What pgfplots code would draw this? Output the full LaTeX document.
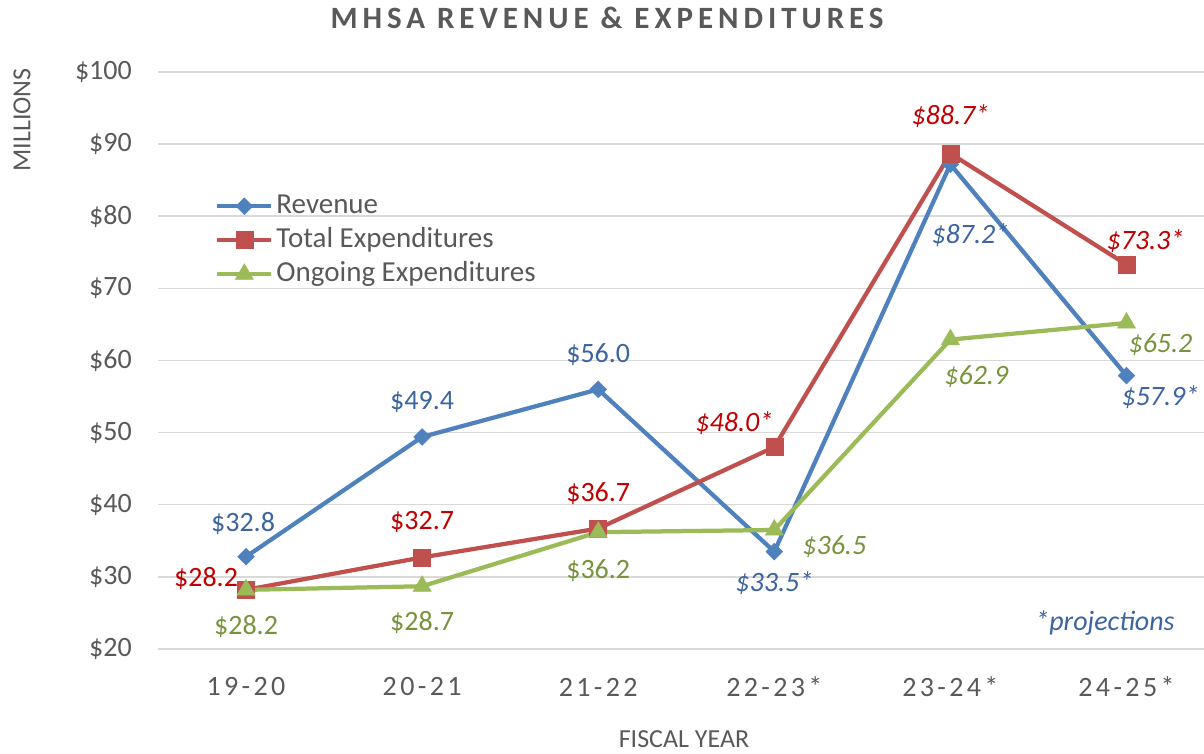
\documentclass[border=0pt]{standalone}
\usepackage{fontspec}
\setmainfont{Carlito}
\newfontfamily\titlefont[LetterSpace=16]{Carlito}
\newfontfamily\tickfont[LetterSpace=12]{Carlito}
\usepackage{pgfplots}
\usepackage{pgfplotstable}
\pgfplotsset{compat=1.18}
\definecolor{txt}{HTML}{595959}
\definecolor{gridc}{HTML}{D9D9D9}
\definecolor{rev}{HTML}{4F81BD}
\definecolor{tot}{HTML}{C0504D}
\definecolor{ong}{HTML}{9BBB59}
\definecolor{revlab}{HTML}{3B64A0}
\definecolor{totlab}{HTML}{C00000}
\definecolor{onglab}{HTML}{77933C}

\pgfplotstableread{
x y dx dy lab
0 32.8 -3 33 {\$32.8}
1 49.4 0 35 {\$49.4}
2 56.0 0 35 {\$56.0}
3 33.5 0 -32 {\textit{\$33.5*}}
4 87.2 20 -71 {\textit{\$87.2*}}
5 57.9 34 -21 {\textit{\$57.9*}}
}\revtab
\pgfplotstableread{
x y dx dy lab
0 28.2 -40 11 {\$28.2}
1 32.7 0 35 {\$32.7}
2 36.7 0 35 {\$36.7}
3 48.0 -40 24 {\textit{\$48.0*}}
4 88.7 0 37 {\textit{\$88.7*}}
5 73.3 19 23 {\textit{\$73.3*}}
}\tottab
\pgfplotstableread{
x y dx dy lab
0 28.2 0 -37 {\$28.2}
1 28.7 0 -36 {\$28.7}
2 36.2 0 -38 {\$36.2}
3 36.5 60 -17 {\textit{\$36.5}}
4 62.9 26 -37 {\textit{\$62.9}}
5 65.2 34 -22 {\textit{\$65.2}}
}\ongtab

\begin{document}
\begin{tikzpicture}
\path[use as bounding box] (0,0) rectangle (1204pt,754pt);
\begin{axis}[
  at={(158pt,105pt)}, anchor=south west,
  scale only axis, width=1046pt, height=577pt,
  xmin=-0.5, xmax=5.44, ymin=20, ymax=100,
  clip=false,
  xtick={0,1,2,3,4,5},
  xticklabels={19-20,20-21,21-22,22-23*,23-24*,24-25*},
  ytick={20,30,40,50,60,70,80,90,100},
  yticklabels={\$20,\$30,\$40,\$50,\$60,\$70,\$80,\$90,\$100},
  major tick length=0pt,
  axis line style={draw=none},
  ymajorgrids, major grid style={gridc, line width=1.5pt},
  yticklabel style={font=\fontsize{28}{30}\selectfont, text=txt, anchor=east, inner sep=0pt, xshift=-26pt},
  xticklabel style={font=\tickfont\fontsize{28}{30}\selectfont, text=txt, anchor=center, inner sep=0pt, yshift=-38pt},
  title={MHSA REVENUE \& EXPENDITURES},
  title style={at={(axis description cs:0.4293,1.0832)}, anchor=center, font=\titlefont\bfseries\fontsize{31}{33}\selectfont, text=txt},
  xlabel={FISCAL YEAR},
  xlabel style={at={(axis description cs:0.5029,-0.1560)}, anchor=center, font=\fontsize{26}{28}\selectfont, text=txt},
  ylabel={MILLIONS},
  ylabel style={at={(axis description cs:-0.130,0.9168)}, anchor=center, font=\fontsize{26}{28}\selectfont, text=txt},
  legend style={at={(axis description cs:0.0545,0.7972)}, anchor=north west, draw=none, fill=none,
    font=\fontsize{29}{31}\selectfont, text=txt, row sep=0pt, inner sep=0pt,
    nodes={inner sep=3pt, text height=21pt, text depth=7pt}},
  legend cell align=left,
  legend image code/.code={\draw[mark repeat=2,mark phase=2,#1] plot coordinates {(0pt,0pt) (27pt,0pt) (54pt,0pt)};},
  nodes near coords,
  point meta=explicit symbolic,
  visualization depends on={\thisrow{dx}\as\lx},
  visualization depends on={\thisrow{dy}\as\ly},
  nodes near coords style={anchor=center, xshift=\lx pt, yshift=\ly pt, font=\fontsize{28}{30}\selectfont, inner sep=0pt},
]
\addplot[rev, line width=4.25pt, mark=square*, mark size=5.9pt,
  mark options={rotate=45, solid, line width=0.5pt, fill=rev},
  nodes near coords style={text=revlab}] table[x=x,y=y,meta=lab]{\revtab};
\addlegendentry{Revenue}
\addplot[tot, line width=4.25pt, mark=square*, mark size=8.5pt,
  mark options={solid, line width=0.5pt, fill=tot},
  nodes near coords style={text=totlab}] table[x=x,y=y,meta=lab]{\tottab};
\addlegendentry{Total Expenditures}
\addplot[ong, line width=4.25pt, mark=triangle*, mark size=10.5pt,
  mark options={solid, line width=0.5pt, fill=ong},
  nodes near coords style={text=onglab}] table[x=x,y=y,meta=lab]{\ongtab};
\addlegendentry{Ongoing Expenditures}
\node[font=\itshape\fontsize{28}{30}\selectfont, text=revlab, inner sep=0pt] at (axis description cs:0.9054,0.0451) {*projections};
\end{axis}
\end{tikzpicture}
\end{document}
